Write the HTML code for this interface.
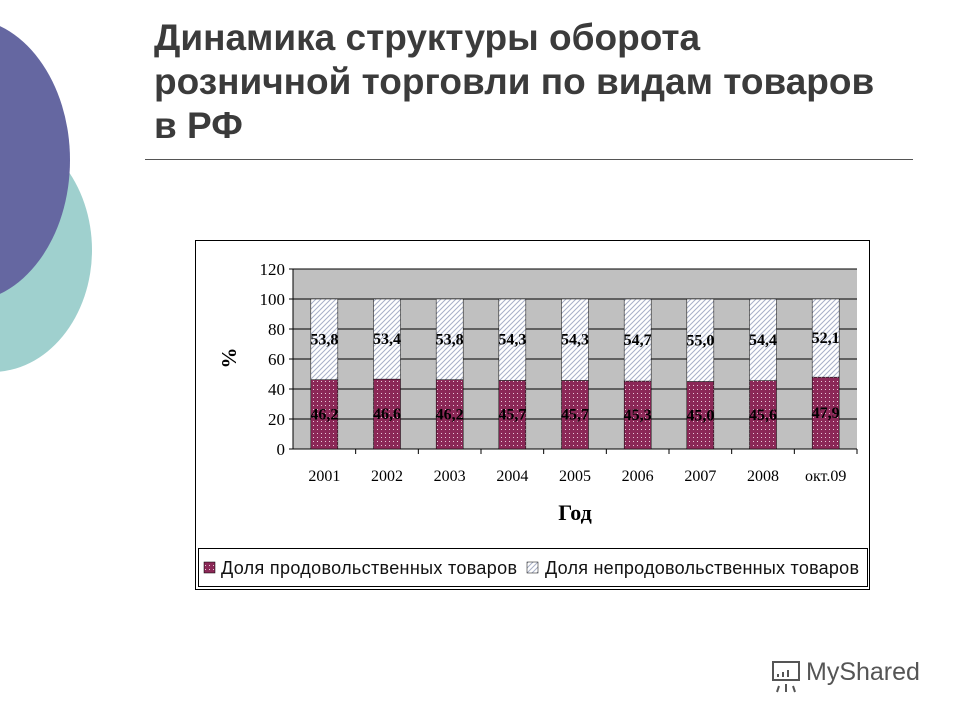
<!DOCTYPE html>
<html><head><meta charset="utf-8"><style>
body{margin:0;width:960px;height:720px;background:#fff;position:relative;overflow:hidden;font-family:"Liberation Sans",sans-serif}
.t{position:absolute;left:154px;top:16px;width:790px;font-size:37px;font-weight:bold;color:#3b3b3b;line-height:44px;white-space:nowrap;overflow:hidden}
</style></head><body>
<div style="position:absolute;left:-108px;top:128px;width:200px;height:244px;border-radius:50%;background:#9fd0ce"></div>
<div style="position:absolute;left:-140px;top:18px;width:210px;height:284px;border-radius:50%;background:#6567a1"></div>
<div class="t">Динамика структуры оборота<br>розничной торговли по видам товаров<br>в РФ</div>
<div style="position:absolute;left:145px;top:159px;width:768px;height:1px;background:#555"></div>
<svg id="c" width="960" height="720" style="position:absolute;left:0;top:0">
<defs>
<pattern id="dots" width="4" height="4" patternUnits="userSpaceOnUse"><rect width="4" height="4" fill="#8b2857"/><rect x="1" y="1" width="1" height="1" fill="#e8c8d8"/></pattern>
<pattern id="hatch" width="5" height="5" patternUnits="userSpaceOnUse"><rect width="5" height="5" fill="#fff"/><path d="M0,5L5,0M-1,1L1,-1M4,6L6,4" stroke="#a8b0c8" stroke-width="1"/></pattern>
</defs>
<rect x="195.5" y="240.5" width="674" height="349" fill="#fff" stroke="#000"/>
<g id="g"></g>
<g stroke="#555" stroke-width="2" fill="none">
<rect x="773" y="662" width="26" height="18"/><line x1="779" y1="686" x2="777" y2="692"/><line x1="786" y1="684" x2="786" y2="692"/><line x1="793" y1="686" x2="795" y2="692"/>
<path d="M778,677v-3M783,677v-5M788,677v-7" /></g>
</svg>
<div style="position:absolute;left:806px;top:658px;font-size:25px;color:#555">MyShared</div>
<script>
const categories=["2001","2002","2003","2004","2005","2006","2007","2008","окт.09"];
const food=[46.2,46.6,46.2,45.7,45.7,45.3,45.0,45.6,47.9];
const nonfood=[53.8,53.4,53.8,54.3,54.3,54.7,55.0,54.4,52.1];
const foodLabels=["46,2","46,6","46,2","45,7","45,7","45,3","45,0","45,6","47,9"];
const nonfoodLabels=["53,8","53,4","53,8","54,3","54,3","54,7","55,0","54,4","52,1"];
const yTicks=[0,20,40,60,80,100,120];
const X0=293,X1=857,Y0=449,Y1=269,YMAX=120;
const y=v=>Y0-(v/YMAX)*(Y0-Y1);
const bw=(X1-X0)/categories.length;
const xc=i=>X0+bw*(i+0.5);
const g=document.getElementById('g');const NS='http://www.w3.org/2000/svg';
function mk(t,a,txt){const e=document.createElementNS(NS,t);for(const k in a)e.setAttribute(k,a[k]);if(txt!=null)e.textContent=txt;g.appendChild(e);return e;}
const F='"Liberation Serif",serif';
let e=mk('rect',{x:X0,y:Y1,width:X1-X0,height:Y0-Y1,fill:'#c0c0c0'});

yTicks.forEach(v=>{
 if(v>0){e=mk('line',{x1:X0,x2:X1,y1:y(v),y2:y(v),stroke:'#000'});}
 mk('line',{x1:X0-4,x2:X0,y1:y(v),y2:y(v),stroke:'#000'});
 e=mk('text',{x:X0-8,y:y(v)+6,'text-anchor':'end','font-size':17,'font-family':F},v);
 
});
mk('line',{x1:X0,x2:X0,y1:Y1,y2:Y0,stroke:'#000'});
mk('line',{x1:X0,x2:X1,y1:Y0,y2:Y0,stroke:'#000'});
categories.forEach((c,i)=>{
 const x=xc(i),w=27;
 mk('line',{x1:X0+bw*(i+1),x2:X0+bw*(i+1),y1:Y0,y2:Y0+5,stroke:'#000'});
 e=mk('rect',{x:x-w/2,y:y(food[i]),width:w,height:Y0-y(food[i]),fill:'url(#dots)',stroke:'#000','stroke-width':0.5});
 
 e=mk('rect',{x:x-w/2,y:y(food[i]+nonfood[i]),width:w,height:y(food[i])-y(food[i]+nonfood[i]),fill:'url(#hatch)',stroke:'#000','stroke-width':0.5});
 
 e=mk('text',{x:x,y:(y(food[i])+Y0)/2+5,'text-anchor':'middle','font-size':16,'font-weight':'bold','font-family':F},foodLabels[i]);
 
 e=mk('text',{x:x,y:(y(food[i])+y(food[i]+nonfood[i]))/2+5,'text-anchor':'middle','font-size':16,'font-weight':'bold','font-family':F},nonfoodLabels[i]);
 
 e=mk('text',{x:x,y:481,'text-anchor':'middle','font-size':16,'font-family':F},c);
 
});
e=mk('text',{x:575,y:520,'text-anchor':'middle','font-size':22,'font-weight':'bold','font-family':F},'Год');

e=mk('text',{x:0,y:0,'text-anchor':'middle','font-size':21,'font-weight':'bold','font-family':F,transform:'translate(236,358) rotate(-90)'},'%');

e=mk('rect',{x:198.5,y:548.5,width:669,height:38,fill:'#fff',stroke:'#000'});

mk('rect',{x:204,y:562,width:11,height:11,fill:'url(#dots)',stroke:'#000','stroke-width':0.5});
e=mk('text',{x:221,y:574,'font-size':18,'font-family':'"Liberation Sans",sans-serif',fill:'#111',textLength:296},'Доля продовольственных товаров');

mk('rect',{x:527,y:562,width:11,height:11,fill:'url(#hatch)',stroke:'#000','stroke-width':0.5});
e=mk('text',{x:545,y:574,'font-size':18,'font-family':'"Liberation Sans",sans-serif',fill:'#111',textLength:314},'Доля непродовольственных товаров');

</script>
</body></html>
